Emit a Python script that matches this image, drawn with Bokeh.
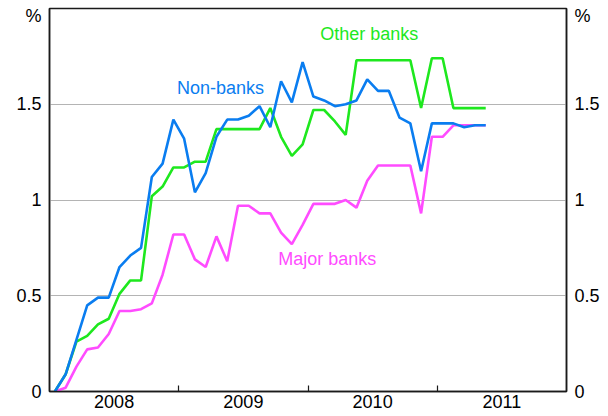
from bokeh.plotting import figure
from bokeh.models import ColumnDataSource, FixedTicker, LinearAxis, Range1d, Label
from bokeh.embed import file_html
from bokeh.resources import INLINE

# Monthly observations, Jan 2008 - May 2011
months = [f"{y}-{m:02d}" for y in range(2008, 2012) for m in range(1, 13)][:41]

non_banks = [0.00, 0.09, 0.27, 0.45, 0.49, 0.49, 0.65, 0.71, 0.75, 1.12, 1.19, 1.42,
             1.32, 1.04, 1.14, 1.33, 1.42, 1.42, 1.44, 1.49, 1.38, 1.62, 1.51, 1.72,
             1.54, 1.52, 1.49, 1.50, 1.52, 1.63, 1.57, 1.57, 1.43, 1.40, 1.15, 1.40,
             1.40, 1.40, 1.38, 1.39, 1.39]
other_banks = [0.00, 0.09, 0.26, 0.29, 0.35, 0.38, 0.51, 0.58, 0.58, 1.02, 1.07, 1.17,
               1.17, 1.20, 1.20, 1.37, 1.37, 1.37, 1.37, 1.37, 1.48, 1.33, 1.23, 1.29,
               1.47, 1.47, 1.41, 1.34, 1.73, 1.73, 1.73, 1.73, 1.73, 1.73, 1.48, 1.74,
               1.74, 1.48, 1.48, 1.48, 1.48]
major_banks = [0.00, 0.02, 0.13, 0.22, 0.23, 0.30, 0.42, 0.42, 0.43, 0.46, 0.61, 0.82,
               0.82, 0.69, 0.65, 0.81, 0.68, 0.97, 0.97, 0.93, 0.93, 0.83, 0.77, 0.87,
               0.98, 0.98, 0.98, 1.00, 0.96, 1.10, 1.18, 1.18, 1.18, 1.18, 0.93, 1.33,
               1.33, 1.39, 1.39, 1.39, 1.39]

year_labels = ["2008", "2009", "2010", "2011"]
y_tick_labels = ["0", "0.5", "1", "1.5"]

# mid-month positions in fractional years
xs = [int(s[:4]) + (int(s[5:]) - 0.5) / 12 for s in months]

src = ColumnDataSource(dict(x=xs, nb=non_banks, ob=other_banks, mb=major_banks))

FONT = "Liberation Sans"
BLUE = "#0a7df0"
GREEN = "#1ee81e"
PINK = "#ff4cff"

p = figure(width=608, height=416, output_backend="svg", toolbar_location=None,
           x_range=Range1d(2008, 2012), y_range=Range1d(0, 2),
           min_border_left=49, min_border_right=42, min_border_top=8, min_border_bottom=25)

p.outline_line_color = "#1a1a1a"
p.outline_line_width = 1.5
p.background_fill_color = "white"
p.border_fill_color = "white"

# x axis: year labels centred mid-year, small inward ticks at year boundaries
xt = FixedTicker(ticks=[int(y) + 0.5 for y in year_labels], minor_ticks=[2009, 2010, 2011])
p.xaxis.ticker = xt
p.xaxis.major_label_overrides = {int(y) + 0.5: y for y in year_labels}
p.xaxis.major_tick_in = 0
p.xaxis.major_tick_out = 0
p.xaxis.minor_tick_in = 6
p.xaxis.minor_tick_out = 0
p.xaxis.minor_tick_line_color = "#1a1a1a"
p.xaxis.minor_tick_line_width = 1.2
p.xaxis.axis_line_color = "#1a1a1a"
p.xaxis.axis_line_width = 1.5
p.xaxis.major_label_text_font = FONT
p.xaxis.major_label_text_font_size = "18px"
p.xaxis.major_label_text_color = "black"
p.xaxis.major_label_standoff = 3
p.xgrid.visible = False

# y axes
ytick_vals = [0, 0.5, 1, 1.5, 1.96]
overrides = {0: "0", 0.5: "0.5", 1: "1", 1.5: "1.5", 1.96: "%"}
right = LinearAxis()
p.add_layout(right, "right")
for ax in (p.yaxis[0], right):
    ax.ticker = FixedTicker(ticks=ytick_vals)
    ax.major_label_overrides = overrides
    ax.major_tick_in = 0
    ax.major_tick_out = 0
    ax.minor_tick_in = 0
    ax.minor_tick_out = 0
    ax.axis_line_color = "#1a1a1a"
    ax.axis_line_width = 1.5
    ax.major_label_text_font = FONT
    ax.major_label_text_font_size = "18px"
    ax.major_label_text_color = "black"
    ax.major_label_standoff = 8

p.ygrid.ticker = FixedTicker(ticks=[0.5, 1, 1.5])
p.ygrid.grid_line_color = "#b4b4b4"
p.ygrid.grid_line_width = 1

p.line("x", "mb", source=src, color=PINK, line_width=2.6)
p.line("x", "ob", source=src, color=GREEN, line_width=2.6)
p.line("x", "nb", source=src, color=BLUE, line_width=2.6)

for txt, x, y, c in [("Non-banks", 2008.987, 1.586, BLUE),
                     ("Other banks", 2010.094, 1.865, GREEN),
                     ("Major banks", 2009.769, 0.694, PINK)]:
    p.add_layout(Label(x=x, y=y, text=txt, text_color=c, text_font=FONT,
                       text_font_size="18px", text_align="left", text_baseline="alphabetic"))

open("out.html", "w").write(file_html(p, INLINE))
